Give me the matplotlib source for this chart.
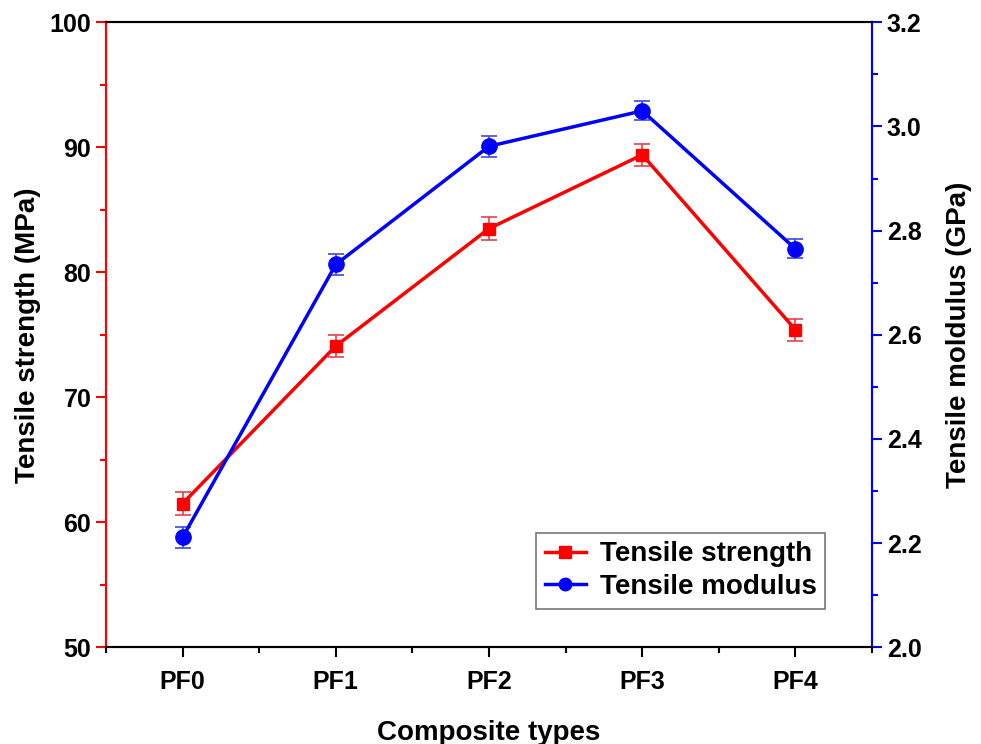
import matplotlib
matplotlib.use("Agg")
import matplotlib.pyplot as plt
from matplotlib.lines import Line2D
from matplotlib.ticker import MultipleLocator

plt.rcParams['font.family'] = ['Liberation Sans', 'DejaVu Sans']
plt.rcParams['font.weight'] = 'bold'

types = ["PF0", "PF1", "PF2", "PF3", "PF4"]
strength = [61.5, 74.1, 83.5, 89.4, 75.4]
strength_err = [0.9, 0.9, 0.9, 0.9, 0.9]
modulus = [2.211, 2.735, 2.962, 3.030, 2.765]
modulus_err = [0.020, 0.020, 0.020, 0.018, 0.018]

x = range(len(types))

fig = plt.figure(figsize=(9.81, 7.44), dpi=100)
ax = fig.add_axes([0.108, 0.130, 0.781, 0.840])
ax2 = ax.twinx()

ax.errorbar(x, strength, yerr=strength_err, color='#ff0000', ecolor='#e8404a',
            lw=2.5, marker='s', ms=9, elinewidth=1.2, capsize=6, capthick=1.2)
ax2.errorbar(x, modulus, yerr=modulus_err, color='#0000ff', ecolor='#4048e0',
             lw=2.5, marker='o', ms=11, elinewidth=1.2, capsize=6, capthick=1.2)

ax.set_xlim(-0.5, 4.5)
ax.set_ylim(50, 100)
ax2.set_ylim(2.0, 3.2)
ax.set_xticks(list(x))
ax.set_xticklabels(types)
ax.xaxis.set_minor_locator(MultipleLocator(0.5))
ax.yaxis.set_major_locator(MultipleLocator(10))
ax.yaxis.set_minor_locator(MultipleLocator(5))
ax2.yaxis.set_major_locator(MultipleLocator(0.2))
ax2.yaxis.set_minor_locator(MultipleLocator(0.1))
ax2.yaxis.set_major_formatter(plt.FormatStrFormatter('%.1f'))

for a in (ax, ax2):
    a.spines['left'].set_color('#ff0000')
    a.spines['right'].set_color('#0000ff')
    for s in a.spines.values():
        s.set_linewidth(1.5)

ax.tick_params(axis='x', which='both', direction='out', colors='black', labelsize=18, pad=9)
ax.tick_params(axis='x', which='major', length=7, width=1.5)
ax.tick_params(axis='x', which='minor', length=4, width=1.5)
ax.tick_params(axis='y', which='both', direction='out', color='#ff0000', labelcolor='black', labelsize=18, width=1.5)
ax.tick_params(axis='y', which='major', length=7)
ax.tick_params(axis='y', which='minor', length=4)
ax2.tick_params(axis='y', which='both', direction='out', color='#0000ff', labelcolor='black', labelsize=18, width=1.5)
ax2.tick_params(axis='y', which='major', length=7)
ax2.tick_params(axis='y', which='minor', length=4)

ax.set_xlabel("Composite types", fontsize=20, fontweight='bold', labelpad=19)
ax.set_ylabel("Tensile strength (MPa)", fontsize=20, fontweight='bold', labelpad=6)
ax2.set_ylabel("Tensile moldulus (GPa)", fontsize=20, fontweight='bold', labelpad=18)

h1 = Line2D([], [], color='#ff0000', lw=2.5, marker='s', ms=8)
h2 = Line2D([], [], color='#0000ff', lw=2.5, marker='o', ms=9)
leg = ax2.legend([h1, h2], ['Tensile strength', 'Tensile modulus'],
                 loc='lower right', bbox_to_anchor=(0.939, 0.062), borderaxespad=0,
                 fontsize=20, frameon=True, fancybox=False, edgecolor='#555555',
                 handlelength=1.5, borderpad=0.3, labelspacing=0.25, handletextpad=0.5)
leg.get_frame().set_linewidth(1.2)
for t in leg.get_texts():
    t.set_fontweight('bold')

fig.savefig("out.png", dpi=100)
